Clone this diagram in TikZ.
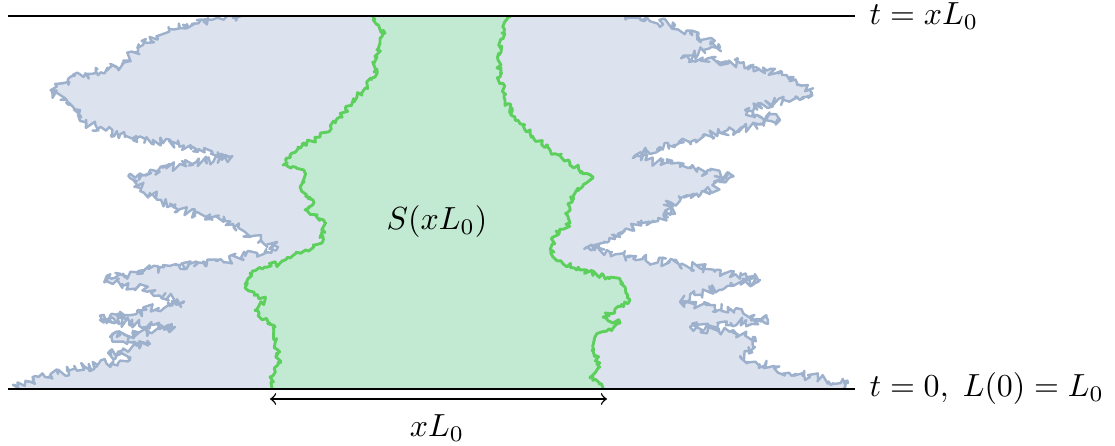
\documentclass[tikz,border=0pt]{standalone}
\usetikzlibrary{decorations.pathmorphing}
\definecolor{bluefill}{HTML}{DDE3EE}
\definecolor{blueedge}{HTML}{9DB0CC}
\definecolor{greenfill}{HTML}{C2EAD3}
\definecolor{greenedge}{HTML}{5CCF5C}
\tikzset{
  bluereg/.style={fill=bluefill, draw=blueedge, line width=0.75pt, line join=round,
    decorate, decoration={random steps, segment length=0.7pt, amplitude=1.5pt}},
  greenreg/.style={fill=greenfill, draw=greenedge, line width=0.9pt, line join=round,
    decorate, decoration={random steps, segment length=0.8pt, amplitude=0.9pt}},
  timeline/.style={line width=0.45pt, black},
  lbl/.style={inner sep=0pt, font=\normalsize}
}
\begin{document}
\begin{tikzpicture}[x=0.011cm, y=-0.011cm]
\useasboundingbox (0,0) rectangle (1115,446);
\pgfmathsetseed{7}
\begin{scope}
\clip (0,16) rectangle (1115,389);
% blue region
\path[bluereg] (20,396) -- (18,386) -- (45,377) -- (85,367) -- (130,360) -- (108,353) -- (150,344) -- (110,337) -- (175,327) -- (100,320) -- (183,303) -- (150,291) -- (105,280) -- (145,270) -- (230,260) -- (278,247) -- (245,232) -- (225,221) -- (178,210) -- (150,193) -- (130,178) -- (180,164) -- (230,157) -- (190,147) -- (125,137) -- (80,121) -- (80,110) -- (52,93) -- (68,79) -- (117,67) -- (143,45) -- (163,34) -- (187,24) -- (233,18) -- (245,9)
 -- (620,9) -- (625,17) -- (675,25) -- (690,33) -- (720,47) -- (683,57) -- (740,63) -- (790,77) -- (812,93) -- (745,110) -- (780,120) -- (720,133) -- (660,147) -- (635,157) -- (680,167) -- (732,177) -- (700,195) -- (665,205) -- (675,214) -- (640,223) -- (620,237) -- (587,247) -- (630,257) -- (715,270) -- (760,280) -- (710,290) -- (680,302) -- (730,310) -- (768,320) -- (690,327) -- (755,337) -- (755,347) -- (740,357) -- (770,367) -- (810,377) -- (848,383) -- (840,396) -- cycle;
% green region
\path[greenreg] (272,396) -- (272,388) -- (270,377) -- (280,363) -- (275,343) -- (275,327) -- (255,310) -- (265,300) -- (245,288) -- (250,273) -- (280,263) -- (300,253) -- (322,243) -- (325,223) -- (305,210) -- (313,200) -- (300,187) -- (305,173) -- (283,165) -- (290,155) -- (298,147) -- (320,137) -- (340,117) -- (357,97) -- (375,77) -- (375,57) -- (385,33) -- (373,17) -- (373,9)
 -- (510,9) -- (510,17) -- (502,33) -- (498,60) -- (500,77) -- (505,100) -- (515,117) -- (530,133) -- (550,150) -- (570,163) -- (593,177) -- (575,193) -- (567,213) -- (570,223) -- (553,237) -- (553,257) -- (580,270) -- (620,280) -- (625,287) -- (630,300) -- (603,317) -- (620,323) -- (595,337) -- (592,350) -- (600,363) -- (590,377) -- (603,388) -- (605,396) -- cycle;
\end{scope}
% time lines
\coordinate (tl) at (8,16);
\coordinate (tr) at (855,16);
\coordinate (bl) at (8,389);
\coordinate (br) at (855,389);
\draw[timeline] (tl) -- (tr);
\draw[timeline] (bl) -- (br);
\node[lbl, anchor=west] (toplbl) at (869,16) {$t = xL_0$};
\node[lbl, anchor=west] (botlbl) at (869,389) {$t = 0,\; L(0) = L_0$};
\node[lbl] (S) at (437,222) {$S(xL_0)$};
% width arrow
\coordinate (aL) at (270,399);
\coordinate (aR) at (607,399);
\draw[timeline, <->] (aL) -- (aR);
\node[lbl] (w) at (437,428) {$xL_0$};
\end{tikzpicture}
\end{document}
